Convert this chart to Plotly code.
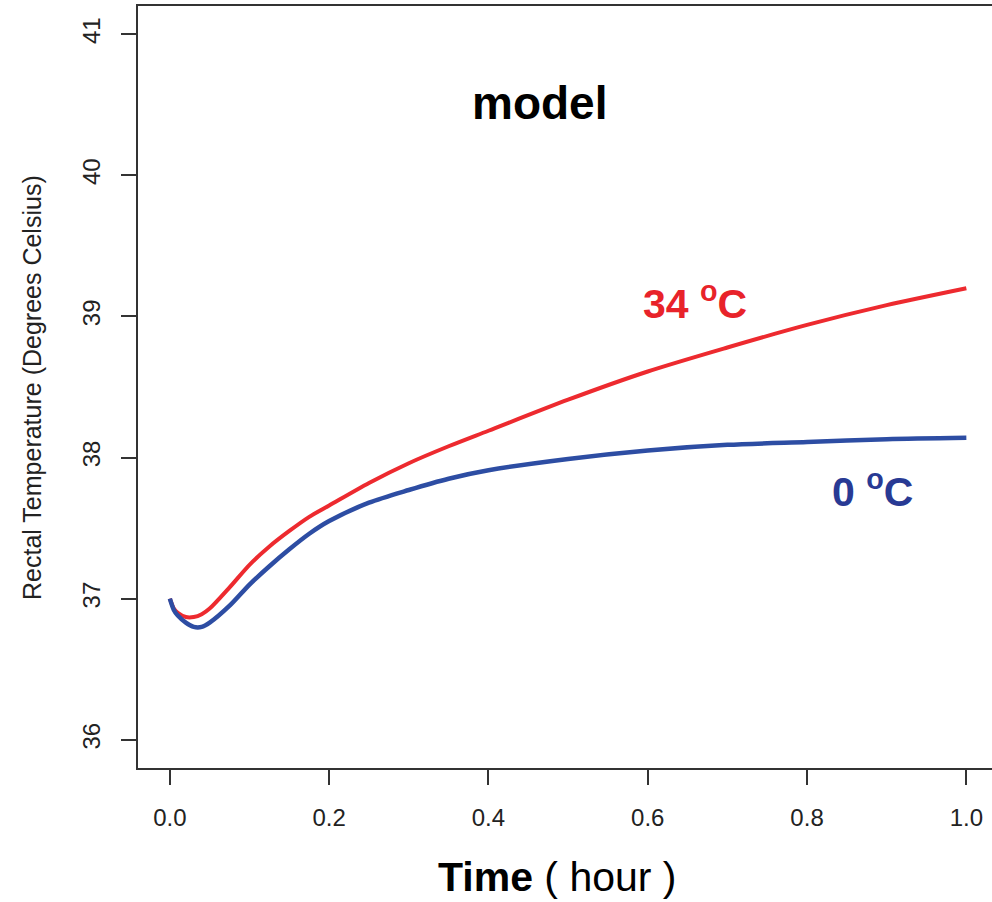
import plotly.graph_objects as go

# Time after exposure (hours)
time_h = [0.0, 0.005, 0.01, 0.02, 0.03, 0.04, 0.05, 0.075, 0.1, 0.125, 0.15, 0.175, 0.2,
          0.25, 0.3, 0.35, 0.4, 0.5, 0.6, 0.7, 0.8, 0.9, 1.0]

# Modelled rectal temperature (deg C) at 34 oC ambient
temp_34 = [37.00, 36.93, 36.90, 36.87, 36.87, 36.89, 36.93, 37.08, 37.24, 37.37, 37.48, 37.58, 37.66,
           37.82, 37.96, 38.08, 38.19, 38.41, 38.61, 38.78, 38.94, 39.08, 39.20]

# Modelled rectal temperature (deg C) at 0 oC ambient
temp_0 = [37.00, 36.92, 36.88, 36.83, 36.80, 36.80, 36.83, 36.95, 37.10, 37.23, 37.35, 37.46, 37.55,
          37.68, 37.77, 37.85, 37.91, 37.99, 38.05, 38.09, 38.11, 38.13, 38.14]

x_ticks = [0.0, 0.2, 0.4, 0.6, 0.8, 1.0]
x_tick_text = ["0.0", "0.2", "0.4", "0.6", "0.8", "1.0"]
y_ticks = [36, 37, 38, 39, 40, 41]

RED = "#ED2A2F"
BLUE = "#2D4DA3"
FONT = "Arial, Liberation Sans, sans-serif"

fig = go.Figure()
fig.add_trace(go.Scatter(x=time_h, y=temp_34, mode="lines",
                         line=dict(color=RED, width=4, shape="spline", smoothing=0.8),
                         showlegend=False))
fig.add_trace(go.Scatter(x=time_h, y=temp_0, mode="lines",
                         line=dict(color=BLUE, width=4.5, shape="spline", smoothing=0.8),
                         showlegend=False))

fig.update_layout(
    width=992, height=902,
    margin=dict(l=138, r=0, t=6, b=134, pad=0),
    paper_bgcolor="white", plot_bgcolor="white",
    font=dict(family=FONT, color="#222222"),
    xaxis=dict(range=[-0.04, 1.0322], tickvals=x_ticks, ticktext=x_tick_text,
               showgrid=False, zeroline=False, showline=True, mirror=True,
               linecolor="#333333", linewidth=1.5,
               ticks="outside", ticklen=15, tickwidth=1.5, tickcolor="#333333",
               tickfont=dict(size=24, family=FONT, color="#222222"),
               ticklabelstandoff=12),
    yaxis=dict(range=[35.8, 41.2], tickvals=y_ticks,
               showgrid=False, zeroline=False, showline=True, mirror=False,
               linecolor="#333333", linewidth=1.5,
               ticks="outside", ticklen=15, tickwidth=1.5, tickcolor="#333333",
               tickangle=-90,
               tickfont=dict(size=24, family=FONT, color="#222222"),
               ticklabelstandoff=12),
)

fig.add_annotation(x=0.4645, y=40.51, xref="x", yref="y", text="<b>model</b>",
                   showarrow=False, font=dict(size=46, family=FONT, color="black"),
                   xanchor="center", yanchor="middle")
fig.add_annotation(x=0.659, y=39.11, xref="x", yref="y", text="<b>34 <sup>o</sup>C</b>",
                   showarrow=False, font=dict(size=41, family=FONT, color="#E8232A"),
                   xanchor="center", yanchor="middle")
fig.add_annotation(x=0.882, y=37.78, xref="x", yref="y", text="<b>0 <sup>o</sup>C</b>",
                   showarrow=False, font=dict(size=41, family=FONT, color="#283A94"),
                   xanchor="center", yanchor="middle")
fig.add_annotation(x=(557 - 138) / 854, y=(768.3 - 877) / 762.6, xref="paper", yref="paper",
                   text="<b>Time</b> ( hour )", showarrow=False,
                   font=dict(size=41, family=FONT, color="black"),
                   xanchor="center", yanchor="middle")
fig.add_annotation(x=(32 - 138) / 854, y=(768.3 - 388) / 762.6, xref="paper", yref="paper",
                   text="Rectal Temperature (Degrees Celsius)", textangle=-90,
                   showarrow=False, font=dict(size=25, family=FONT, color="#222222"),
                   xanchor="center", yanchor="middle")

fig.write_html("out.html")
